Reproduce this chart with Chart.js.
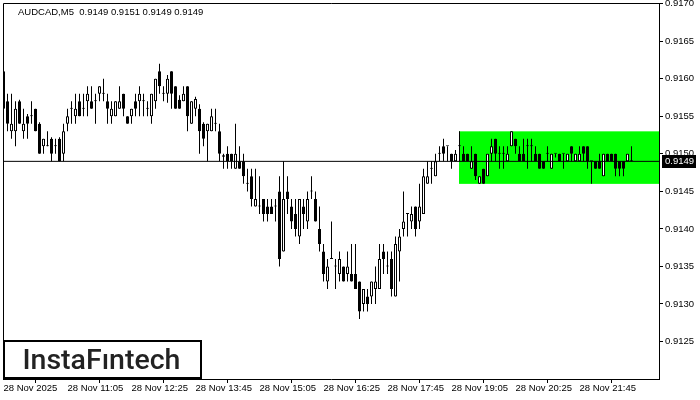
<!DOCTYPE html>
<html>
<head>
<meta charset="utf-8">
<script src="https://cdn.jsdelivr.net/npm/chart.js@4/dist/chart.umd.min.js"></script>
<style>
  html, body { margin: 0; padding: 0; background: #fff; }
</style>
</head>
<body>
<canvas id="chart" width="700" height="400"></canvas>
<script>
const symbol = 'AUDCAD,M5';

// M5 candles, one every 5 minutes starting 28 Nov 09:45
const opens = [
  0.9161, 0.9157, 0.9153, 0.9153, 0.9157, 0.9153, 0.9155, 0.9155, 0.9156, 0.9154,
  0.9151, 0.9151, 0.9152, 0.9151, 0.9152, 0.9150, 0.9154, 0.9156, 0.9155, 0.9157,
  0.9156, 0.9157, 0.9157, 0.9157, 0.9158, 0.9158, 0.9157, 0.9155, 0.9155, 0.9156,
  0.9158, 0.9155, 0.9155, 0.9157, 0.9157, 0.9157, 0.9156, 0.9155, 0.9157, 0.9161,
  0.9158, 0.9158, 0.9161, 0.9159, 0.91572, 0.9157, 0.9159, 0.9154, 0.9156, 0.9156,
  0.9154, 0.9153, 0.9153, 0.9154, 0.9153, 0.91498, 0.9150, 0.9150, 0.9148, 0.9149,
  0.9149, 0.9146, 0.9147, 0.9143, 0.9143, 0.9144, 0.9143, 0.9143, 0.9143, 0.9145,
  0.9137, 0.9145, 0.9143, 0.9142, 0.9139, 0.9143, 0.9141, 0.9145, 0.9144, 0.9140,
  0.9137, 0.9133, 0.9136, 0.9135, 0.9134, 0.9135, 0.9134, 0.9134, 0.9134, 0.9133,
  0.9130, 0.9131, 0.9131, 0.9132, 0.9132, 0.9137, 0.9135, 0.9136, 0.9131, 0.9137,
  0.9140, 0.9142, 0.9141, 0.9143, 0.9141, 0.9142, 0.9146, 0.9148, 0.9147, 0.9150,
  0.9151, 0.9151, 0.9150, 0.9149, 0.9151, 0.9150, 0.9150, 0.9148, 0.9150, 0.9146,
  0.9148, 0.9147, 0.9150, 0.9152, 0.9150, 0.9150, 0.9149, 0.9151, 0.9152, 0.9150,
  0.9150, 0.9151, 0.9151, 0.9150, 0.9150, 0.9149, 0.9150, 0.9148, 0.9150, 0.9150,
  0.9150, 0.9149, 0.9151, 0.9149, 0.9149, 0.9151, 0.9151, 0.9149, 0.9149, 0.9149,
  0.9147, 0.9150, 0.9150, 0.9150, 0.9149, 0.9149, 0.9149, 0.9149
];
const highs = [
  0.91613, 0.9158, 0.9158, 0.9157, 0.91572, 0.9156, 0.91553, 0.9157, 0.9156, 0.91542,
  0.9152, 0.9153, 0.91522, 0.9152, 0.91522, 0.9154, 0.9156, 0.9157, 0.9158, 0.9158,
  0.9158, 0.9159, 0.9159, 0.9158, 0.9159, 0.9160, 0.9158, 0.9157, 0.9157, 0.9159,
  0.9158, 0.9155, 0.9156, 0.9158, 0.9159, 0.9158, 0.9157, 0.9158, 0.9160, 0.9162,
  0.9159, 0.91605, 0.9161, 0.9159, 0.91578, 0.9159, 0.9159, 0.9157, 0.91576, 0.91566,
  0.91542, 0.9154, 0.9156, 0.9156, 0.9154, 0.9150, 0.9151, 0.9150, 0.9154, 0.9151,
  0.9150, 0.9148, 0.9148, 0.9148, 0.9147, 0.9144, 0.9144, 0.9144, 0.9144, 0.9147,
  0.9149, 0.9147, 0.9144, 0.9144, 0.9144, 0.9144, 0.9145, 0.9147, 0.9145, 0.9143,
  0.9138, 0.9136, 0.9141, 0.9136, 0.9137, 0.9135, 0.9137, 0.9138, 0.9138, 0.9133,
  0.9132, 0.9132, 0.9133, 0.9135, 0.9138, 0.9138, 0.9137, 0.9137, 0.9139, 0.9140,
  0.9145, 0.9142, 0.9143, 0.9143, 0.9146, 0.9148, 0.9149, 0.9149, 0.9150, 0.9151,
  0.9152, 0.9151, 0.9150, 0.91505, 0.9153, 0.9151, 0.9150, 0.9151, 0.9150, 0.9147,
  0.9148, 0.9150, 0.9152, 0.9152, 0.9151, 0.9151, 0.9151, 0.9153, 0.9152, 0.9151,
  0.9152, 0.9152, 0.9152, 0.9151, 0.9150, 0.9149, 0.9151, 0.9150, 0.9150, 0.9150,
  0.9150, 0.9150, 0.9151, 0.9150, 0.9151, 0.9151, 0.9151, 0.9149, 0.9149, 0.9150,
  0.9150, 0.9150, 0.9150, 0.9150, 0.9149, 0.9149, 0.9150, 0.9151
];
const lows = [
  0.91558, 0.9153, 0.9152, 0.9151, 0.9154, 0.9152, 0.9152, 0.9154, 0.9153, 0.9150,
  0.9150, 0.9151, 0.9149, 0.9150, 0.9149, 0.9149, 0.9153, 0.9154, 0.9154, 0.9155,
  0.9155, 0.9155, 0.9156, 0.9154, 0.9157, 0.9157, 0.9154, 0.9154, 0.9155, 0.9156,
  0.9155, 0.9154, 0.9154, 0.9155, 0.9155, 0.9155, 0.9155, 0.9154, 0.9156, 0.9158,
  0.9157, 0.91568, 0.9156, 0.9156, 0.9156, 0.9157, 0.9153, 0.9154, 0.9155, 0.9150,
  0.9151, 0.9149, 0.9153, 0.9153, 0.9149, 0.9148, 0.9148, 0.9148, 0.9148, 0.9148,
  0.9146, 0.9145, 0.9143, 0.9143, 0.9142, 0.9141, 0.9141, 0.9142, 0.9141, 0.9135,
  0.9137, 0.9142, 0.9140, 0.9139, 0.9138, 0.9140, 0.9140, 0.9144, 0.9141, 0.9137,
  0.9133, 0.9132, 0.9136, 0.9132, 0.9133, 0.9133, 0.9133, 0.9133, 0.9132, 0.9128,
  0.9129, 0.9129, 0.9130, 0.9130, 0.9132, 0.9134, 0.9134, 0.9131, 0.9131, 0.9133,
  0.9139, 0.9139, 0.9140, 0.9139, 0.9140, 0.9142, 0.9146, 0.9146, 0.9147, 0.9149,
  0.9149, 0.9149, 0.9148, 0.9149, 0.9149, 0.9149, 0.9149, 0.9148, 0.91465, 0.9146,
  0.9146, 0.9147, 0.9149, 0.9149, 0.9148, 0.9148, 0.9149, 0.9151, 0.9150, 0.9149,
  0.9149, 0.9148, 0.9149, 0.9149, 0.9148, 0.9148, 0.9149, 0.9148, 0.91495, 0.9149,
  0.9148, 0.9149, 0.9149, 0.9149, 0.9149, 0.9149, 0.9148, 0.9146, 0.9148, 0.9148,
  0.9147, 0.9149, 0.9149, 0.9147, 0.9147, 0.9147, 0.9149, 0.9149
];
const closes = [
  0.9156, 0.9154, 0.9154, 0.9156, 0.9154, 0.9154, 0.9154, 0.9155, 0.9153, 0.9150,
  0.9152, 0.9151, 0.9150, 0.9151, 0.9149, 0.9153, 0.9155, 0.9156, 0.9156, 0.9155,
  0.9156, 0.9158, 0.9156, 0.9157, 0.9159, 0.9158, 0.9156, 0.9156, 0.9157, 0.9157,
  0.9156, 0.9154, 0.9156, 0.9156, 0.9158, 0.9157, 0.9156, 0.9158, 0.9160, 0.9159,
  0.9158, 0.9160, 0.9158, 0.9156, 0.9156, 0.9158, 0.9155, 0.9157, 0.91573, 0.9153,
  0.9152, 0.9154, 0.9155, 0.9154, 0.9150, 0.91496, 0.9149, 0.9149, 0.9150, 0.9148,
  0.9147, 0.9146, 0.9144, 0.9144, 0.9143, 0.9142, 0.9142, 0.9142, 0.9143, 0.9136,
  0.9144, 0.9144, 0.9141, 0.9140, 0.9144, 0.9142, 0.9144, 0.9145, 0.9141, 0.9138,
  0.9134, 0.9135, 0.9136, 0.9135, 0.9136, 0.9133, 0.9135, 0.9133, 0.9132, 0.9129,
  0.9132, 0.9130, 0.9133, 0.9133, 0.9136, 0.9136, 0.9135, 0.9132, 0.9138, 0.9139,
  0.9141, 0.9142, 0.9142, 0.9140, 0.9143, 0.9147, 0.9147, 0.9148, 0.9149, 0.9150,
  0.9150, 0.9151, 0.9149, 0.9150, 0.9151, 0.9149, 0.9149, 0.9149, 0.9147, 0.9147,
  0.9146, 0.9150, 0.9151, 0.9150, 0.9150, 0.9150, 0.9150, 0.9153, 0.9151, 0.9149,
  0.9149, 0.9151, 0.9151, 0.9149, 0.9148, 0.9148, 0.9150, 0.9150, 0.9150, 0.9149,
  0.9150, 0.9150, 0.9150, 0.9150, 0.9150, 0.9150, 0.9149, 0.9149, 0.9148, 0.9148,
  0.9150, 0.9149, 0.9149, 0.9148, 0.9148, 0.9148, 0.9150, 0.9149
];

// time axis: candle index of each label
const timeTicks = [0, 16, 32, 48, 64, 80, 96, 112, 128, 144];
const timeLabels = ['28 Nov 2025', '28 Nov 11:05', '28 Nov 12:25', '28 Nov 13:45', '28 Nov 15:05',
  '28 Nov 16:25', '28 Nov 17:45', '28 Nov 19:05', '28 Nov 20:25', '28 Nov 21:45'];
const priceTicks = [0.9125, 0.9130, 0.9135, 0.9140, 0.9145, 0.9150, 0.9155, 0.9160, 0.9165, 0.9170];

// rectangle pattern zone
const zoneStart = 113.875;
const zoneHigh = 0.9153;
const zoneLow = 0.9146;

const last = closes.length - 1;
const lastPrice = closes[last];
const title = symbol + '  ' + [opens[last], highs[last], lows[last], closes[last]].map(v => v.toFixed(4)).join(' ');

const xMin = -0.125;
const xMax = 163.875;
const labelFont = { family: 'Liberation Sans', size: 9.5 };

const wicks = lows.map((l, i) => ({ x: i, y: [l, highs[i]] }));
const bodies = opens.map((o, i) => ({ x: i, y: [o, closes[i]] }));
const bodyColors = opens.map((o, i) => closes[i] > o ? '#ffffff' : '#000000');

const decor = {
    id: 'decor',
    beforeDatasetsDraw(chart) {
        const { ctx, chartArea, scales: { x, y } } = chart;
        const left = x.getPixelForValue(zoneStart);
        const top = y.getPixelForValue(zoneHigh);
        const bottom = y.getPixelForValue(zoneLow);
        ctx.save();
        ctx.fillStyle = '#00ff00';
        ctx.fillRect(left, top, chartArea.right - left, bottom - top);
        ctx.restore();
    },
    afterDraw(chart) {
        const { ctx, chartArea, scales: { y } } = chart;
        ctx.save();
        // top and left frame
        ctx.strokeStyle = '#000';
        ctx.lineWidth = 1;
        ctx.beginPath();
        ctx.moveTo(chartArea.left + 0.5, chartArea.bottom);
        ctx.lineTo(chartArea.left + 0.5, chartArea.top + 0.5);
        ctx.lineTo(chartArea.right, chartArea.top + 0.5);
        ctx.stroke();

        // symbol line
        ctx.fillStyle = '#000';
        ctx.font = '9.5px "Liberation Sans"';
        ctx.textBaseline = 'alphabetic';
        ctx.fillText(title, 18, 14.5);

        // current price tag
        const py = y.getPixelForValue(lastPrice);
        ctx.fillStyle = '#000';
        ctx.fillRect(chartArea.right + 3, Math.round(py) - 6, 34, 13);
        ctx.fillStyle = '#fff';
        ctx.textBaseline = 'middle';
        ctx.fillText(lastPrice.toFixed(4), chartArea.right + 6, py + 0.5);

        // logo
        ctx.fillStyle = '#fff';
        ctx.fillRect(3, 340, 199, 39);
        ctx.strokeStyle = '#000';
        ctx.lineWidth = 2;
        ctx.strokeRect(4, 341, 197, 37);
        const logo = 'InstaF\u0131ntech';
        let size = 27;
        ctx.font = '500 ' + size + 'px Roboto';
        size = size * 158 / ctx.measureText(logo).width;
        ctx.font = '500 ' + size + 'px Roboto';
        ctx.fillStyle = '#222';
        ctx.textBaseline = 'alphabetic';
        ctx.fillText(logo, 22.5, 369);
        ctx.restore();
    }
};

new Chart(document.getElementById('chart'), {
    type: 'bar',
    data: {
        datasets: [
            {
                type: 'line',
                data: [{ x: xMin, y: lastPrice }, { x: xMax, y: lastPrice }],
                borderColor: '#000',
                borderWidth: 1,
                pointRadius: 0,
                order: 0
            },
            {
                data: bodies,
                backgroundColor: bodyColors,
                borderColor: '#000',
                borderWidth: 1,
                borderSkipped: false,
                barThickness: 3,
                minBarLength: 1,
                inflateAmount: 0,
                grouped: false,
                order: 1
            },
            {
                data: wicks,
                backgroundColor: '#000',
                borderWidth: 0,
                barThickness: 1,
                inflateAmount: 0,
                grouped: false,
                order: 2
            }
        ]
    },
    options: {
        responsive: false,
        animation: false,
        devicePixelRatio: 1,
        layout: { padding: { left: 3, top: 3, right: 0, bottom: 0 } },
        plugins: {
            legend: { display: false },
            tooltip: { enabled: false }
        },
        scales: {
            x: {
                type: 'linear',
                min: xMin,
                max: xMax,
                bounds: 'data',
                offset: false,
                grid: { drawOnChartArea: false, drawTicks: true, tickLength: 4, color: '#000' },
                border: { color: '#000' },
                ticks: {
                    align: 'start',
                    padding: 0,
                    maxRotation: 0,
                    autoSkip: false,
                    color: '#000',
                    font: labelFont,
                    callback: v => timeLabels[timeTicks.indexOf(v)]
                },
                afterBuildTicks: s => { s.ticks = timeTicks.map(v => ({ value: v })); },
                afterFit: s => {
                    s.height = 21;
                    s.paddingLeft = s.paddingRight = 0;
                }
            },
            y: {
                position: 'right',
                min: 0.9120,
                max: 0.91701,
                bounds: 'data',
                grid: { drawOnChartArea: false, drawTicks: true, tickLength: 4, color: '#000' },
                border: { color: '#000' },
                ticks: {
                    padding: 2,
                    autoSkip: false,
                    color: '#000',
                    font: labelFont,
                    callback: v => v.toFixed(4)
                },
                afterBuildTicks: s => { s.ticks = priceTicks.map(v => ({ value: v })); },
                afterFit: s => {
                    s.width = 41;
                    s.paddingTop = s.paddingBottom = 0;
                }
            }
        }
    },
    plugins: [decor]
});
</script>
</body>
</html>
